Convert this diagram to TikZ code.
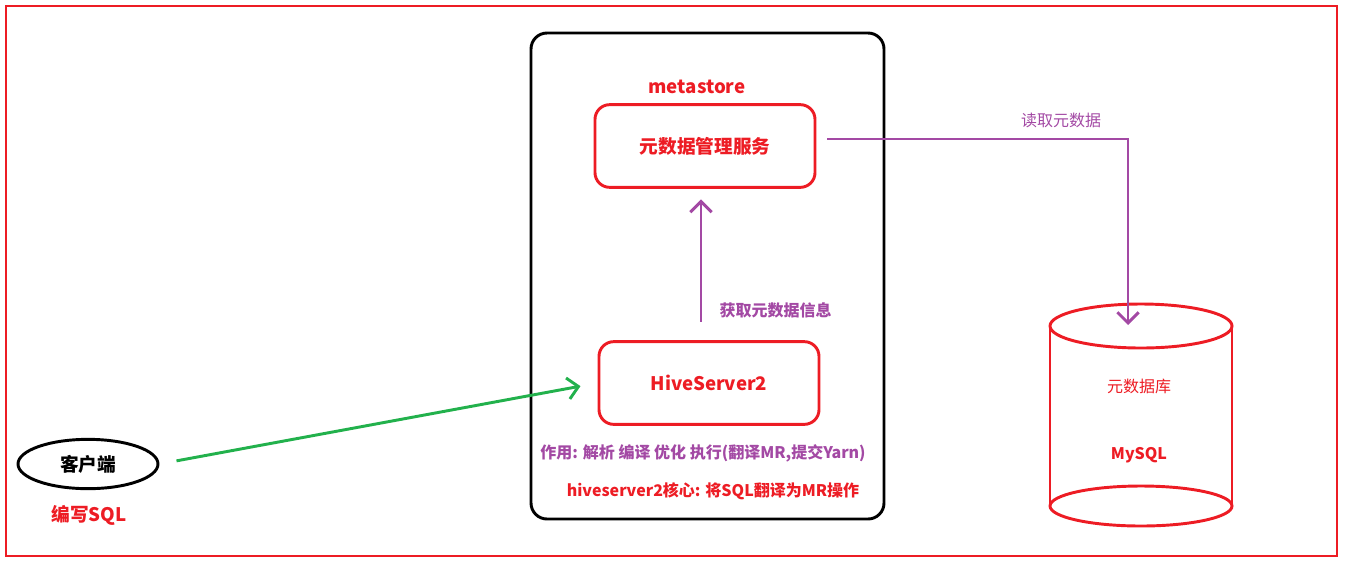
\documentclass[tikz,border=0pt]{standalone}
\usepackage{fontspec}
\setmainfont{Noto Sans CJK SC}
\usetikzlibrary{arrows.meta,shapes.geometric}
\definecolor{pred}{RGB}{237,28,36}
\definecolor{ppurple}{RGB}{163,73,164}
\definecolor{pgreen}{RGB}{34,177,76}
\tikzset{
	redbox/.style={draw=pred, line width=2.2pt, rounded corners=11pt, minimum width=165pt, minimum height=62pt, text=pred, font=\fontsize{14}{16}\selectfont\bfseries},
	bigtxt/.style={font=\fontsize{14}{16}\selectfont\bfseries},
	smalltxt/.style={font=\fontsize{12}{14}\selectfont},
	smallbold/.style={font=\fontsize{12}{14}\selectfont\bfseries},
	barb/.style={-{Straight Barb[length=8pt,width=16pt]}, line width=2.2pt}
}
\begin{document}
\begin{tikzpicture}[x=0.75pt, y=-0.75pt]
	\useasboundingbox (0,0) rectangle (1345,562);
	\draw[pred, line width=1.5pt] (6,6) rectangle (1337,556);
	\draw[line width=2.2pt, rounded corners=12pt] (531,33) rectangle (884,519);
	% metastore side
	\node[bigtxt, text=pred] (mlabel) at (697,87) {metastore};
	\node[redbox] (meta) at (705,146) {元数据管理服务};
	\node[redbox] (hive) at (709,383) {HiveServer2};
	\draw[barb, ppurple, shorten <=14pt, shorten >=8pt] ([xshift=-6pt]hive.north) -- ([xshift=-3pt]meta.south);
	\node[smallbold, text=ppurple, anchor=west] (getlabel) at (715,310) {获取元数据信息};
	\node[smallbold, text=ppurple] (uselabel) at (703,453) {作用: 解析 编译 优化 执行(翻译MR,提交Yarn)};
	\node[smallbold, text=pred] (corelabel) at (713,491) {hiveserver2核心: 将SQL翻译为MR操作};
	% database
	\draw[pred, line width=2.2pt] (1141,326) ellipse (91 and 22);
	\draw[pred, line width=2.2pt] (1141,506) ellipse (91 and 20);
	\draw[pred, line width=2.2pt] (1050,326) -- (1050,506) (1232,326) -- (1232,506);
	\node[smalltxt, text=pred] (dbname) at (1139,386) {元数据库};
	\node[smallbold, text=pred] (mysql) at (1139,455) {MySQL};
	\coordinate (dbtop) at (1128,325);
	\draw[barb, ppurple] ([shift={(11,-7)}]meta.east) -| (dbtop);
	\node[smalltxt, text=ppurple] (readlabel) at (1061,120) {读取元数据};
	% client
	\node[draw, ellipse, line width=2.2pt, minimum width=105pt, minimum height=37pt, bigtxt] (client) at (88,464) {客户端};
	\node[bigtxt, text=pred] (sqllabel) at (89,515) {编写SQL};
	\draw[barb, pgreen, shorten <=13pt, shorten >=13pt] (client.east) -- (hive.west);
\end{tikzpicture}
\end{document}
